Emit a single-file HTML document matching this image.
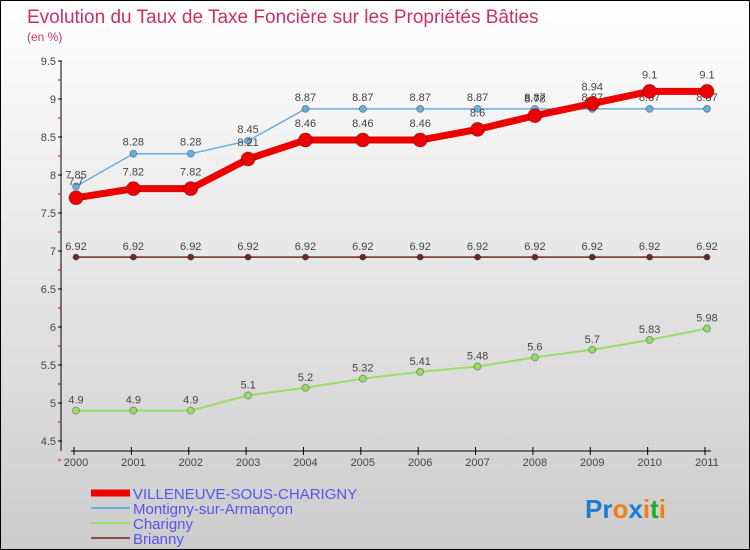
<!DOCTYPE html>
<html><head><meta charset="utf-8"><style>
body{margin:0}
#c{width:750px;height:550px;position:relative;background:linear-gradient(#fff,#ccc);border:1px solid #000;box-sizing:border-box;font-family:"Liberation Sans",sans-serif;overflow:hidden}
</style></head><body>
<div id="c">
<svg id="s" width="750" height="550" style="position:absolute;left:0;top:0"></svg>
</div>
<script>
const years=["2000","2001","2002","2003","2004","2005","2006","2007","2008","2009","2010","2011"];
const villeneuve=[7.7,7.82,7.82,8.21,8.46,8.46,8.46,8.6,8.78,8.94,9.1,9.1];
const montigny=[7.85,8.28,8.28,8.45,8.87,8.87,8.87,8.87,8.87,8.87,8.87,8.87];
const charigny=[4.9,4.9,4.9,5.1,5.2,5.32,5.41,5.48,5.6,5.7,5.83,5.98];
const brianny=[6.92,6.92,6.92,6.92,6.92,6.92,6.92,6.92,6.92,6.92,6.92,6.92];
const yTicks=["4.5","5","5.5","6","6.5","7","7.5","8","8.5","9","9.5"];
const svg=document.getElementById('s');const NS="http://www.w3.org/2000/svg";
function X(i){return 75+i*(706-75)/11}
function Y(v){return 60+(9.5-v)*76}
function mk(t,a,name,txt){const e=document.createElementNS(NS,t);for(const k in a)e.setAttribute(k,a[k]);


if(txt!=null)e.textContent=txt;svg.appendChild(e);return e}
mk('text',{x:26,y:22,fill:'#c8306a','font-size':19},'chart-title','Evolution du Taux de Taxe Foncière sur les Propriétés Bâties');
mk('text',{x:26,y:40,fill:'#c8306a','font-size':12},'y-unit','(en %)');
mk('line',{x1:60,y1:60,x2:60,y2:450,stroke:'#000'},'y-axis');
mk('line',{x1:70,y1:450,x2:710,y2:450,stroke:'#000'},'x-axis');
yTicks.forEach(t=>{const y=Y(+t);mk('line',{x1:57,y1:y,x2:61,y2:y,stroke:'#000'},'y-tick');
mk('line',{x1:57,y1:y+19,x2:60,y2:y+19,stroke:'#d00'},'y-minor-tick');
mk('text',{x:55,y:y+4,'text-anchor':'end','font-size':11,fill:'#444'},'y-tick-label',t)});
years.forEach((t,i)=>{mk('line',{x1:X(i)-2,y1:446,x2:X(i)-2,y2:454,stroke:'#000'},'x-tick');
mk('text',{x:X(i),y:465,'text-anchor':'middle','font-size':11,fill:'#444'},'x-tick-label',t)});
function series(d,color,w,r,name,off){
mk('polyline',{points:d.map((v,i)=>X(i)+','+Y(v)).join(' '),fill:'none',stroke:color,'stroke-width':w,'stroke-linejoin':'round'},name+'-line');
d.forEach((v,i)=>{mk('circle',{cx:X(i),cy:Y(v),r:r,fill:color,stroke:'rgba(0,0,0,0.3)'},name+'-point');
mk('text',{x:X(i),y:Y(v)-off,'text-anchor':'middle','font-size':11,fill:'#444'},name+'-value',String(v))});}
series(brianny,'#6b2a2a',1.5,3,'brianny',7);
series(charigny,'#99dd66',2,3.5,'charigny',7);
series(montigny,'#6aaedc',1.5,3.5,'montigny',8);
series(villeneuve,'#ee0000',7,7,'villeneuve',13);
const leg=[['VILLENEUVE-SOUS-CHARIGNY','#ee0000',7],['Montigny-sur-Armançon','#6aaedc',2],['Charigny','#99dd66',2],['Brianny','#8b4a4a',2]];
leg.forEach((l,i)=>{const y=492+i*15;mk('line',{x1:90,y1:y,x2:129,y2:y,stroke:l[1],'stroke-width':l[2]},'legend-swatch');
mk('text',{x:132,y:y+6,'font-size':15,fill:'#5555ee'},'legend-label',l[0])});
const pc=['#1a7fd4','#1a7fd4','#f08010','#1a7fd4','#f08010','#22aa22','#f08010'];
const lg=mk('text',{x:584,y:517,'font-size':26,'font-weight':'bold'},'proxiti-logo');
'Proxiti'.split('').forEach((ch,i)=>{const t=document.createElementNS(NS,'tspan');t.setAttribute('fill',['#1a7fd4','#1a7fd4','#f08010','#1a7fd4','#f08010','#22aa22','#f08010'][i]);t.textContent=ch;lg.appendChild(t)});
</script>
</body></html>
